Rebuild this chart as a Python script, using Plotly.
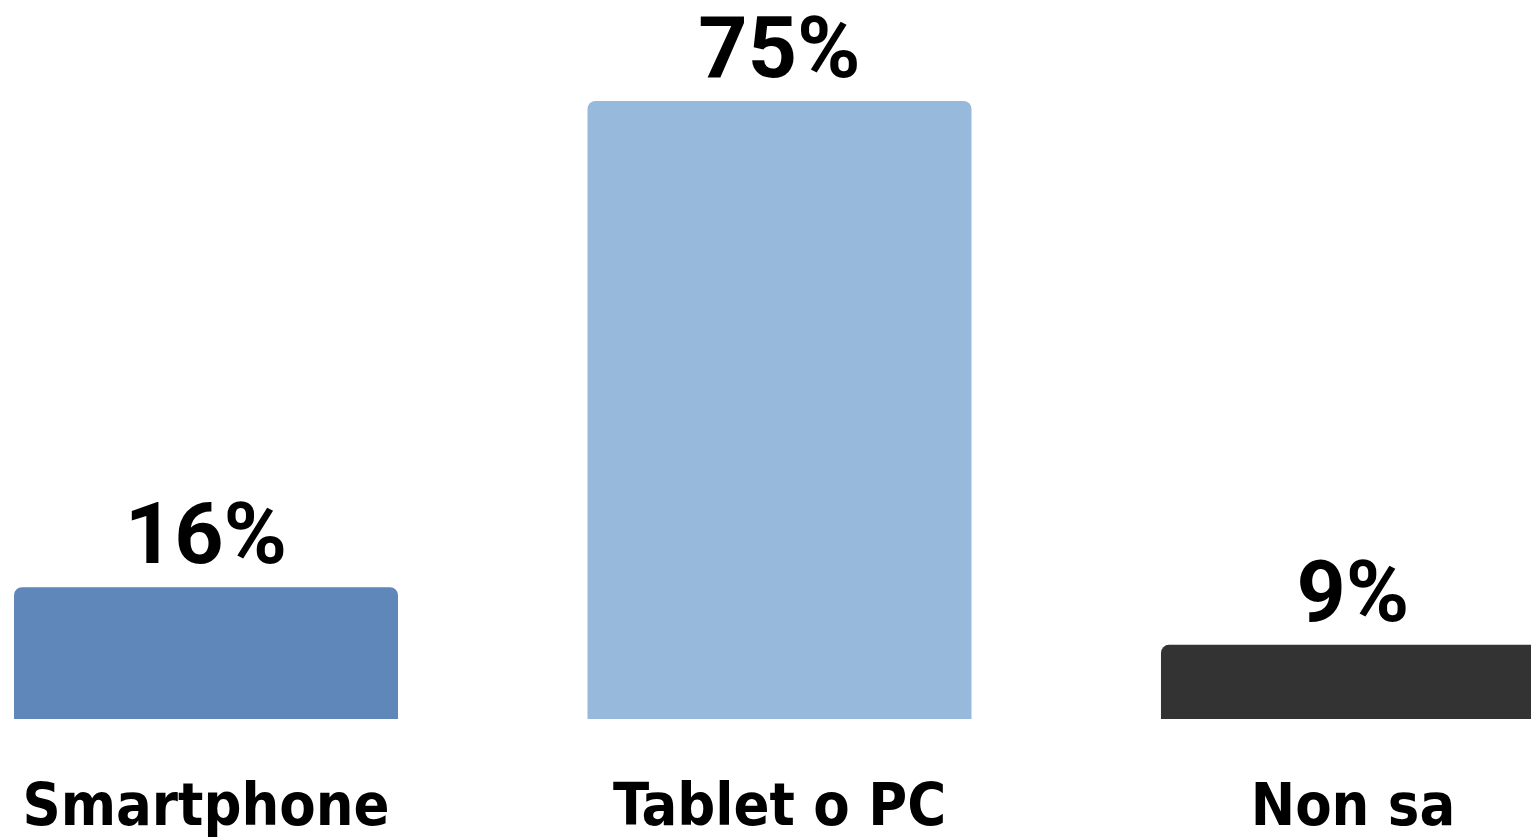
import plotly.graph_objects as go

categories = ["Smartphone", "Tablet o PC", "Non sa"]
values = [16, 75, 9]
labels = ["16%", "75%", "9%"]
colors = ["#5F87B9", "#97B9DB", "#333333"]

fig = go.Figure(
    go.Bar(
        x=categories,
        y=values,
        text=labels,
        texttemplate="<b>%{text}</b>",
        textposition="outside",
        constraintext="none",
        textfont=dict(family="Roboto", size=86, color="#000000"),
        marker=dict(color=colors, line=dict(width=0)),
        cliponaxis=False,
        hoverinfo="skip",
    )
)

fig.update_layout(
    width=1531,
    height=839,
    margin=dict(l=0, r=0, t=0, b=120, autoexpand=False),
    paper_bgcolor="white",
    plot_bgcolor="white",
    bargap=0.3304,
    barcornerradius=8,
    showlegend=False,
    xaxis=dict(
        range=[-0.3592, 2.3104],
        automargin=False,
        showgrid=False,
        zeroline=False,
        showline=False,
        ticks="",
        ticklabelstandoff=46,
        tickfont=dict(family="'DejaVu Sans Condensed', 'DejaVu Sans', sans-serif", size=59,
                      color="#000000", weight="bold"),
    ),
    yaxis=dict(
        range=[0, 87.26],
        visible=False,
        automargin=False,
        showgrid=False,
        zeroline=False,
    ),
)

fig.write_html(
    "out.html",
    config={"displayModeBar": False},
    post_script="document.body.style.margin='0';document.body.style.overflow='hidden';",
)
